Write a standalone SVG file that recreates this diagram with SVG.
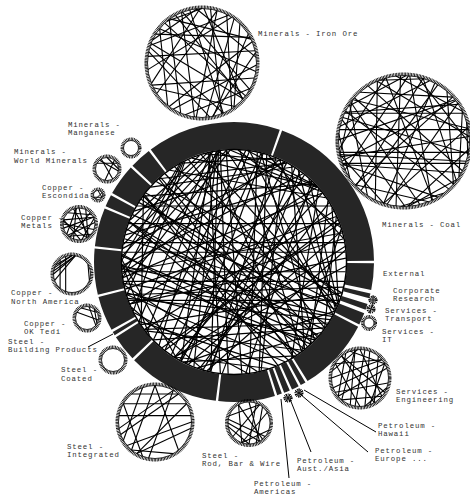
<svg xmlns="http://www.w3.org/2000/svg" width="470" height="498" viewBox="0 0 470 498">
<style>
.seg{fill:none;stroke:#262626;stroke-width:27}
.sat{fill:none;stroke:#000;stroke-width:3;stroke-dasharray:0.8 0.7}
.sat2{fill:none;stroke:#000;stroke-width:0.8}
.lbl{font-family:"Liberation Mono","DejaVu Sans Mono",monospace;font-size:7.4px;letter-spacing:0.84px;fill:#333}
.ptr{stroke:#000;stroke-width:1;fill:none}
.ch{stroke:#000;fill:none}
</style>
<defs>
<line id="c10" x1="0" y1="-100" x2="17.36" y2="-98.48" vector-effect="non-scaling-stroke"/>
<line id="c20" x1="0" y1="-100" x2="34.2" y2="-93.97" vector-effect="non-scaling-stroke"/>
<line id="c30" x1="0" y1="-100" x2="50" y2="-86.6" vector-effect="non-scaling-stroke"/>
<line id="c40" x1="0" y1="-100" x2="64.28" y2="-76.6" vector-effect="non-scaling-stroke"/>
<line id="c50" x1="0" y1="-100" x2="76.6" y2="-64.28" vector-effect="non-scaling-stroke"/>
<line id="c60" x1="0" y1="-100" x2="86.6" y2="-50" vector-effect="non-scaling-stroke"/>
<line id="c70" x1="0" y1="-100" x2="93.97" y2="-34.2" vector-effect="non-scaling-stroke"/>
<line id="c80" x1="0" y1="-100" x2="98.48" y2="-17.36" vector-effect="non-scaling-stroke"/>
<line id="c90" x1="0" y1="-100" x2="100" y2="0" vector-effect="non-scaling-stroke"/>
<line id="c100" x1="0" y1="-100" x2="98.48" y2="17.36" vector-effect="non-scaling-stroke"/>
<line id="c110" x1="0" y1="-100" x2="93.97" y2="34.2" vector-effect="non-scaling-stroke"/>
<line id="c120" x1="0" y1="-100" x2="86.6" y2="50" vector-effect="non-scaling-stroke"/>
<line id="c130" x1="0" y1="-100" x2="76.6" y2="64.28" vector-effect="non-scaling-stroke"/>
<line id="c140" x1="0" y1="-100" x2="64.28" y2="76.6" vector-effect="non-scaling-stroke"/>
<line id="c150" x1="0" y1="-100" x2="50" y2="86.6" vector-effect="non-scaling-stroke"/>
<line id="c160" x1="0" y1="-100" x2="34.2" y2="93.97" vector-effect="non-scaling-stroke"/>
<line id="c170" x1="0" y1="-100" x2="17.36" y2="98.48" vector-effect="non-scaling-stroke"/>
<line id="c180" x1="0" y1="-100" x2="0" y2="100" vector-effect="non-scaling-stroke"/>
</defs>
<rect width="470" height="498" fill="#fff"/>

<!-- nodes -->
<g id="n-iron-ore">
<circle class="seg" cx="234" cy="262" r="126.5" pathLength="360" stroke-dasharray="55.6 400" stroke-dashoffset="-233.5"/>
<g transform="translate(202,63)"><circle class="sat" r="56"/><circle class="sat2" r="54.5"/>
<g class="ch" stroke-width="1.1" transform="scale(0.545)">
<use href="#c120" transform="rotate(302)"/><use href="#c150" transform="rotate(309)"/><use href="#c170" transform="rotate(317)"/><use href="#c100" transform="rotate(324)"/><use href="#c160" transform="rotate(331)"/><use href="#c140" transform="rotate(339)"/><use href="#c170" transform="rotate(347)"/><use href="#c90" transform="rotate(354)"/><use href="#c130" transform="rotate(2)"/><use href="#c150" transform="rotate(9)"/><use href="#c170" transform="rotate(16)"/><use href="#c120" transform="rotate(27)"/><use href="#c140" transform="rotate(36)"/><use href="#c100" transform="rotate(44)"/><use href="#c110" transform="rotate(58)"/><use href="#c150" transform="rotate(67)"/><use href="#c90" transform="rotate(79)"/><use href="#c120" transform="rotate(92)"/><use href="#c140" transform="rotate(106)"/><use href="#c80" transform="rotate(118)"/><use href="#c160" transform="rotate(131)"/><use href="#c100" transform="rotate(143)"/><use href="#c130" transform="rotate(157)"/><use href="#c110" transform="rotate(172)"/><use href="#c150" transform="rotate(188)"/><use href="#c120" transform="rotate(203)"/><use href="#c90" transform="rotate(219)"/><use href="#c140" transform="rotate(236)"/><use href="#c110" transform="rotate(248)"/><use href="#c130" transform="rotate(263)"/><use href="#c160" transform="rotate(277)"/><use href="#c100" transform="rotate(289)"/><use href="#c60" transform="rotate(295)"/><use href="#c40" transform="rotate(320)"/>
</g></g>
<text class="lbl" x="258" y="36">Minerals - Iron Ore</text>
</g>

<g id="n-coal">
<circle class="seg" cx="234" cy="262" r="126.5" pathLength="360" stroke-dasharray="69.4 400" stroke-dashoffset="-290.1"/>
<g transform="translate(404,141)"><circle class="sat" r="67"/><circle class="sat2" r="65.5"/>
<g class="ch" stroke-width="1.1" transform="scale(0.655)">
<use href="#c150" transform="rotate(5)"/><use href="#c110" transform="rotate(17)"/><use href="#c170" transform="rotate(28)"/><use href="#c90" transform="rotate(41)"/><use href="#c140" transform="rotate(55)"/><use href="#c60" transform="rotate(63)"/><use href="#c120" transform="rotate(78)"/><use href="#c170" transform="rotate(86)"/><use href="#c80" transform="rotate(97)"/><use href="#c150" transform="rotate(108)"/><use href="#c130" transform="rotate(119)"/><use href="#c50" transform="rotate(126)"/><use href="#c160" transform="rotate(137)"/><use href="#c100" transform="rotate(149)"/><use href="#c70" transform="rotate(158)"/><use href="#c140" transform="rotate(166)"/><use href="#c110" transform="rotate(179)"/><use href="#c170" transform="rotate(187)"/><use href="#c60" transform="rotate(198)"/><use href="#c130" transform="rotate(206)"/><use href="#c90" transform="rotate(214)"/><use href="#c150" transform="rotate(227)"/><use href="#c40" transform="rotate(236)"/><use href="#c120" transform="rotate(244)"/><use href="#c160" transform="rotate(252)"/><use href="#c80" transform="rotate(263)"/><use href="#c140" transform="rotate(271)"/><use href="#c100" transform="rotate(283)"/><use href="#c170" transform="rotate(291)"/><use href="#c60" transform="rotate(302)"/><use href="#c130" transform="rotate(309)"/><use href="#c90" transform="rotate(318)"/><use href="#c150" transform="rotate(327)"/><use href="#c110" transform="rotate(336)"/><use href="#c170" transform="rotate(344)"/><use href="#c70" transform="rotate(353)"/><use href="#c80" transform="rotate(12)"/><use href="#c30" transform="rotate(73)"/><use href="#c40" transform="rotate(143)"/><use href="#c170" transform="rotate(221)"/><use href="#c50" transform="rotate(258)"/><use href="#c120" transform="rotate(296)"/><use href="#c40" transform="rotate(338)"/><use href="#c180" transform="rotate(48)"/><use href="#c180" transform="rotate(131)"/><use href="#c160" transform="rotate(280)"/><use href="#c160" transform="rotate(100)"/><use href="#c130" transform="rotate(295)"/><use href="#c140" transform="rotate(110)"/>
</g></g>
<text class="lbl" x="382" y="227">Minerals - Coal</text>
</g>

<g id="n-external">
<circle class="seg" cx="234" cy="262" r="126.5" pathLength="360" stroke-dasharray="11 400" stroke-dashoffset="-0.5"/>
<text class="lbl" x="383" y="276">External</text>
</g>

<g id="n-corporate-research">
<circle class="seg" cx="234" cy="262" r="126.5" pathLength="360" stroke-dasharray="2 400" stroke-dashoffset="-13"/>
<g transform="translate(373,300)"><circle class="sat" r="3"/><g class="ch" stroke-width="1" transform="scale(0.045)"><use href="#c180"/><use href="#c180" transform="rotate(90)"/></g></g>
<text class="lbl" x="393" y="293">Corporate</text>
<text class="lbl" x="393" y="301">Research</text>
</g>

<g id="n-services-transport">
<circle class="seg" cx="234" cy="262" r="126.5" pathLength="360" stroke-dasharray="2.5 400" stroke-dashoffset="-17.5"/>
<g transform="translate(371,309)"><circle class="sat" r="3"/><g class="ch" stroke-width="1" transform="scale(0.045)"><use href="#c180" transform="rotate(20)"/><use href="#c180" transform="rotate(110)"/></g></g>
<text class="lbl" x="385" y="313">Services -</text>
<text class="lbl" x="385" y="321">Transport</text>
</g>

<g id="n-services-it">
<circle class="seg" cx="234" cy="262" r="126.5" pathLength="360" stroke-dasharray="5 400" stroke-dashoffset="-21.5"/>
<g transform="translate(369,323)"><circle class="sat" r="6.5"/><circle class="sat2" r="5"/></g>
<text class="lbl" x="382" y="334">Services -</text>
<text class="lbl" x="382" y="342">IT</text>
</g>

<g id="n-services-engineering">
<circle class="seg" cx="234" cy="262" r="126.5" pathLength="360" stroke-dasharray="30.8 400" stroke-dashoffset="-27.5"/>
<g transform="translate(360,378)"><circle class="sat" r="30"/><circle class="sat2" r="28.5"/>
<g class="ch" stroke-width="1.1" transform="scale(0.285)">
<use href="#c130" transform="rotate(0)"/><use href="#c150" transform="rotate(20)"/><use href="#c110" transform="rotate(40)"/><use href="#c160" transform="rotate(70)"/><use href="#c140" transform="rotate(100)"/><use href="#c90" transform="rotate(130)"/><use href="#c170" transform="rotate(150)"/><use href="#c120" transform="rotate(180)"/><use href="#c150" transform="rotate(200)"/><use href="#c100" transform="rotate(230)"/><use href="#c170" transform="rotate(250)"/><use href="#c140" transform="rotate(270)"/><use href="#c110" transform="rotate(300)"/><use href="#c160" transform="rotate(320)"/><use href="#c80" transform="rotate(340)"/><use href="#c180" transform="rotate(10)"/><use href="#c100" transform="rotate(60)"/><use href="#c60" transform="rotate(110)"/><use href="#c130" transform="rotate(220)"/><use href="#c70" transform="rotate(285)"/>
</g></g>
<text class="lbl" x="396" y="394">Services -</text>
<text class="lbl" x="396" y="402">Engineering</text>
</g>

<g id="n-petroleum-hawaii">
<circle class="seg" cx="234" cy="262" r="126.5" pathLength="360" stroke-dasharray="2.2 400" stroke-dashoffset="-59.3"/>
<line class="ptr" x1="304" y1="390" x2="376" y2="432"/>
<text class="lbl" x="378" y="428">Petroleum -</text>
<text class="lbl" x="378" y="436">Hawaii</text>
</g>

<g id="n-petroleum-europe">
<circle class="seg" cx="234" cy="262" r="126.5" pathLength="360" stroke-dasharray="3 400" stroke-dashoffset="-62.5"/>
<g transform="translate(299,393)"><circle class="sat" r="3"/><g class="ch" stroke-width="1" transform="scale(0.045)"><use href="#c180"/><use href="#c180" transform="rotate(60)"/><use href="#c180" transform="rotate(120)"/></g></g>
<line class="ptr" x1="300" y1="394" x2="368" y2="452"/>
<text class="lbl" x="375" y="453">Petroleum -</text>
<text class="lbl" x="375" y="461">Europe ...</text>
</g>

<g id="n-petroleum-aust-asia">
<circle class="seg" cx="234" cy="262" r="126.5" pathLength="360" stroke-dasharray="2.5 400" stroke-dashoffset="-66.5"/>
<g transform="translate(288,398)"><circle class="sat" r="3"/><g class="ch" stroke-width="1" transform="scale(0.045)"><use href="#c180" transform="rotate(30)"/><use href="#c180" transform="rotate(90)"/><use href="#c180" transform="rotate(150)"/></g></g>
<line class="ptr" x1="290" y1="399" x2="311" y2="452"/>
<text class="lbl" x="297" y="463">Petroleum -</text>
<text class="lbl" x="297" y="471">Aust./Asia</text>
</g>

<g id="n-petroleum-americas">
<circle class="seg" cx="234" cy="262" r="126.5" pathLength="360" stroke-dasharray="2 400" stroke-dashoffset="-70"/>
<line class="ptr" x1="281" y1="399" x2="289" y2="478"/>
<text class="lbl" x="254" y="486">Petroleum -</text>
<text class="lbl" x="254" y="494">Americas</text>
</g>

<g id="n-steel-rod">
<circle class="seg" cx="234" cy="262" r="126.5" pathLength="360" stroke-dasharray="23.5 400" stroke-dashoffset="-73"/>
<g transform="translate(249,423)"><circle class="sat" r="22.5"/><circle class="sat2" r="21"/>
<g class="ch" stroke-width="1.1" transform="scale(0.21)">
<use href="#c150" transform="rotate(0)"/><use href="#c160" transform="rotate(20)"/><use href="#c120" transform="rotate(40)"/><use href="#c140" transform="rotate(60)"/><use href="#c90" transform="rotate(110)"/><use href="#c120" transform="rotate(150)"/><use href="#c130" transform="rotate(200)"/><use href="#c160" transform="rotate(230)"/><use href="#c100" transform="rotate(290)"/><use href="#c170" transform="rotate(330)"/><use href="#c80" transform="rotate(180)"/><use href="#c150" transform="rotate(130)"/>
</g></g>
<text class="lbl" x="202" y="458">Steel -</text>
<text class="lbl" x="202" y="466">Rod, Bar &amp; Wire</text>
</g>

<g id="n-steel-integrated">
<circle class="seg" cx="234" cy="262" r="126.5" pathLength="360" stroke-dasharray="38 400" stroke-dashoffset="-97.5"/>
<g transform="translate(155,422)"><circle class="sat" r="38"/><circle class="sat2" r="36.5"/>
<g class="ch" stroke-width="1.1" transform="scale(0.365)">
<use href="#c160" transform="rotate(280)"/><use href="#c120" transform="rotate(300)"/><use href="#c150" transform="rotate(250)"/><use href="#c130" transform="rotate(260)"/><use href="#c110" transform="rotate(100)"/><use href="#c140" transform="rotate(90)"/><use href="#c100" transform="rotate(200)"/><use href="#c140" transform="rotate(220)"/><use href="#c70" transform="rotate(150)"/><use href="#c160" transform="rotate(30)"/><use href="#c150" transform="rotate(60)"/><use href="#c100" transform="rotate(240)"/><use href="#c80" transform="rotate(320)"/><use href="#c140" transform="rotate(0)"/>
</g></g>
<text class="lbl" x="67" y="449">Steel -</text>
<text class="lbl" x="67" y="457">Integrated</text>
</g>

<g id="n-steel-coated">
<circle class="seg" cx="234" cy="262" r="126.5" pathLength="360" stroke-dasharray="11 400" stroke-dashoffset="-136.5"/>
<g transform="translate(113,360)"><circle class="sat" r="13"/><circle class="sat2" r="11.5"/></g>
<text class="lbl" x="61" y="372">Steel -</text>
<text class="lbl" x="61" y="381">Coated</text>
</g>

<g id="n-steel-building-products">
<circle class="seg" cx="234" cy="262" r="126.5" pathLength="360" stroke-dasharray="1.5 400" stroke-dashoffset="-148.5"/>
<line class="ptr" x1="88" y1="347" x2="113" y2="334"/>
<text class="lbl" x="8" y="343.5">Steel -</text>
<text class="lbl" x="8" y="352">Building Products</text>
</g>

<g id="n-copper-ok-tedi">
<circle class="seg" cx="234" cy="262" r="126.5" pathLength="360" stroke-dasharray="14.5 400" stroke-dashoffset="-151"/>
<g transform="translate(87,318)"><circle class="sat" r="13"/><circle class="sat2" r="11.5"/>
<g class="ch" stroke-width="1.1" transform="scale(0.115)">
<use href="#c90" transform="rotate(330)"/><use href="#c120" transform="rotate(10)"/><use href="#c80" transform="rotate(40)"/><use href="#c160" transform="rotate(300)"/>
</g></g>
<text class="lbl" x="24" y="326">Copper -</text>
<text class="lbl" x="24" y="334">OK Tedi</text>
</g>

<g id="n-copper-north-america">
<circle class="seg" cx="234" cy="262" r="126.5" pathLength="360" stroke-dasharray="19 400" stroke-dashoffset="-166.5"/>
<g transform="translate(72,274)"><circle class="sat" r="20"/><circle class="sat2" r="18.5"/>
<g class="ch" stroke-width="1.1" transform="scale(0.185)">
<use href="#c100" transform="rotate(270)"/><use href="#c90" transform="rotate(280)"/><use href="#c70" transform="rotate(290)"/><use href="#c60" transform="rotate(300)"/><use href="#c140" transform="rotate(200)"/><use href="#c100" transform="rotate(220)"/><use href="#c120" transform="rotate(250)"/><use href="#c50" transform="rotate(60)"/>
</g></g>
<text class="lbl" x="11" y="295">Copper -</text>
<text class="lbl" x="11" y="303.5">North America</text>
</g>

<g id="n-copper-metals">
<circle class="seg" cx="234" cy="262" r="126.5" pathLength="360" stroke-dasharray="16 400" stroke-dashoffset="-186.5"/>
<g transform="translate(79,224)"><circle class="sat" r="17.5"/><circle class="sat2" r="16"/>
<g class="ch" stroke-width="1.1" transform="scale(0.16)">
<use href="#c150" transform="rotate(0)"/><use href="#c120" transform="rotate(25)"/><use href="#c170" transform="rotate(45)"/><use href="#c100" transform="rotate(70)"/><use href="#c140" transform="rotate(85)"/><use href="#c160" transform="rotate(110)"/><use href="#c90" transform="rotate(130)"/><use href="#c130" transform="rotate(150)"/><use href="#c110" transform="rotate(175)"/><use href="#c150" transform="rotate(200)"/><use href="#c120" transform="rotate(230)"/><use href="#c170" transform="rotate(255)"/><use href="#c140" transform="rotate(285)"/><use href="#c100" transform="rotate(315)"/><use href="#c160" transform="rotate(340)"/>
</g></g>
<text class="lbl" x="21" y="219.5">Copper -</text>
<text class="lbl" x="21" y="228">Metals</text>
</g>

<g id="n-copper-escondida">
<circle class="seg" cx="234" cy="262" r="126.5" pathLength="360" stroke-dasharray="5 400" stroke-dashoffset="-203.5"/>
<g transform="translate(98,195)"><circle class="sat" r="6"/><circle class="sat2" r="4.5"/>
<g class="ch" stroke-width="1" transform="scale(0.045)">
<use href="#c120" transform="rotate(0)"/><use href="#c150" transform="rotate(60)"/><use href="#c120" transform="rotate(120)"/>
</g></g>
<text class="lbl" x="42" y="189.5">Copper -</text>
<text class="lbl" x="42" y="197.5">Escondida</text>
</g>

<g id="n-minerals-world-minerals">
<circle class="seg" cx="234" cy="262" r="126.5" pathLength="360" stroke-dasharray="13 400" stroke-dashoffset="-209.5"/>
<g transform="translate(107,169)"><circle class="sat" r="13"/><circle class="sat2" r="11.5"/>
<g class="ch" stroke-width="1.1" transform="scale(0.115)">
<use href="#c120" transform="rotate(300)"/><use href="#c140" transform="rotate(320)"/><use href="#c150" transform="rotate(40)"/><use href="#c180" transform="rotate(330)"/><use href="#c90" transform="rotate(0)"/>
</g></g>
<text class="lbl" x="14" y="154">Minerals -</text>
<text class="lbl" x="14" y="162.5">World Minerals</text>
</g>

<g id="n-minerals-manganese">
<circle class="seg" cx="234" cy="262" r="126.5" pathLength="360" stroke-dasharray="9 400" stroke-dashoffset="-223.5"/>
<g transform="translate(131,148)"><circle class="sat" r="9"/><circle class="sat2" r="7.5"/></g>
<text class="lbl" x="68" y="127">Minerals -</text>
<text class="lbl" x="68" y="135">Manganese</text>
</g>

<!-- connectors -->
<g id="connectors" class="ch" stroke-width="1.2" transform="translate(234,262) scale(1.12)">
<circle r="100.5" fill="none" stroke="#000" stroke-width="1.5" vector-effect="non-scaling-stroke"/>
<use href="#c170" transform="rotate(112)"/><use href="#c150" transform="rotate(118)"/><use href="#c180" transform="rotate(124)"/><use href="#c160" transform="rotate(127)"/><use href="#c140" transform="rotate(133)"/><use href="#c170" transform="rotate(136)"/><use href="#c150" transform="rotate(141)"/><use href="#c160" transform="rotate(146)"/><use href="#c140" transform="rotate(151)"/><use href="#c150" transform="rotate(157)"/><use href="#c130" transform="rotate(121)"/><use href="#c160" transform="rotate(131)"/><use href="#c180" transform="rotate(139)"/><use href="#c130" transform="rotate(144)"/><use href="#c170" transform="rotate(148)"/>
<use href="#c180" transform="rotate(295)"/><use href="#c170" transform="rotate(302)"/><use href="#c160" transform="rotate(308)"/><use href="#c150" transform="rotate(316)"/><use href="#c170" transform="rotate(322)"/><use href="#c140" transform="rotate(328)"/><use href="#c150" transform="rotate(336)"/><use href="#c130" transform="rotate(343)"/><use href="#c160" transform="rotate(348)"/><use href="#c120" transform="rotate(356)"/><use href="#c140" transform="rotate(3)"/><use href="#c110" transform="rotate(8)"/><use href="#c120" transform="rotate(14)"/>
<use href="#c170" transform="rotate(95)"/><use href="#c170" transform="rotate(275)"/><use href="#c140" transform="rotate(110)"/><use href="#c140" transform="rotate(290)"/><use href="#c120" transform="rotate(300)"/><use href="#c160" transform="rotate(100)"/><use href="#c160" transform="rotate(280)"/><use href="#c170" transform="rotate(265)"/>
<use href="#c150" transform="rotate(70)"/><use href="#c170" transform="rotate(78)"/><use href="#c130" transform="rotate(82)"/><use href="#c160" transform="rotate(88)"/><use href="#c170" transform="rotate(256)"/><use href="#c150" transform="rotate(262)"/><use href="#c130" transform="rotate(268)"/><use href="#c120" transform="rotate(284)"/><use href="#c160" transform="rotate(248)"/>
<use href="#c50" transform="rotate(332)"/><use href="#c70" transform="rotate(338)"/><use href="#c40" transform="rotate(345)"/><use href="#c60" transform="rotate(351)"/><use href="#c50" transform="rotate(358)"/><use href="#c70" transform="rotate(318)"/><use href="#c90" transform="rotate(325)"/><use href="#c100" transform="rotate(306)"/><use href="#c80" transform="rotate(312)"/><use href="#c70" transform="rotate(2)"/><use href="#c40" transform="rotate(7)"/><use href="#c60" transform="rotate(18)"/>
<use href="#c160" transform="rotate(192)"/><use href="#c150" transform="rotate(201)"/><use href="#c140" transform="rotate(208)"/><use href="#c160" transform="rotate(214)"/><use href="#c130" transform="rotate(222)"/><use href="#c120" transform="rotate(231)"/><use href="#c110" transform="rotate(238)"/><use href="#c90" transform="rotate(244)"/><use href="#c80" transform="rotate(253)"/><use href="#c70" transform="rotate(262)"/><use href="#c60" transform="rotate(271)"/><use href="#c170" transform="rotate(205)"/><use href="#c150" transform="rotate(218)"/><use href="#c140" transform="rotate(226)"/><use href="#c170" transform="rotate(183)"/><use href="#c180" transform="rotate(176)"/><use href="#c160" transform="rotate(187)"/>
<use href="#c170" transform="rotate(22)"/><use href="#c180" transform="rotate(28)"/><use href="#c160" transform="rotate(33)"/><use href="#c170" transform="rotate(39)"/><use href="#c150" transform="rotate(46)"/><use href="#c160" transform="rotate(52)"/><use href="#c140" transform="rotate(58)"/><use href="#c170" transform="rotate(63)"/><use href="#c150" transform="rotate(68)"/><use href="#c130" transform="rotate(74)"/><use href="#c140" transform="rotate(26)"/><use href="#c150" transform="rotate(36)"/><use href="#c130" transform="rotate(44)"/>
<use href="#c90" transform="rotate(24)"/><use href="#c110" transform="rotate(31)"/><use href="#c70" transform="rotate(42)"/><use href="#c100" transform="rotate(49)"/><use href="#c80" transform="rotate(57)"/><use href="#c60" transform="rotate(66)"/><use href="#c70" transform="rotate(73)"/><use href="#c80" transform="rotate(35)"/><use href="#c50" transform="rotate(61)"/>
<use href="#c90" transform="rotate(116)"/><use href="#c110" transform="rotate(123)"/><use href="#c70" transform="rotate(129)"/><use href="#c120" transform="rotate(134)"/><use href="#c90" transform="rotate(142)"/><use href="#c60" transform="rotate(147)"/><use href="#c100" transform="rotate(153)"/><use href="#c80" transform="rotate(158)"/><use href="#c50" transform="rotate(162)"/><use href="#c140" transform="rotate(119)"/><use href="#c130" transform="rotate(137)"/><use href="#c100" transform="rotate(126)"/>
<use href="#c100" transform="rotate(258)"/><use href="#c90" transform="rotate(266)"/><use href="#c80" transform="rotate(273)"/><use href="#c70" transform="rotate(279)"/><use href="#c60" transform="rotate(286)"/><use href="#c50" transform="rotate(292)"/><use href="#c90" transform="rotate(297)"/><use href="#c120" transform="rotate(264)"/><use href="#c110" transform="rotate(277)"/>
<use href="#c90" transform="rotate(168)"/><use href="#c70" transform="rotate(173)"/><use href="#c50" transform="rotate(196)"/><use href="#c60" transform="rotate(211)"/><use href="#c40" transform="rotate(229)"/><use href="#c70" transform="rotate(236)"/><use href="#c160" transform="rotate(12)"/><use href="#c150" transform="rotate(17)"/><use href="#c110" transform="rotate(84)"/><use href="#c120" transform="rotate(92)"/><use href="#c150" transform="rotate(103)"/><use href="#c130" transform="rotate(106)"/>
</g>
</svg>
